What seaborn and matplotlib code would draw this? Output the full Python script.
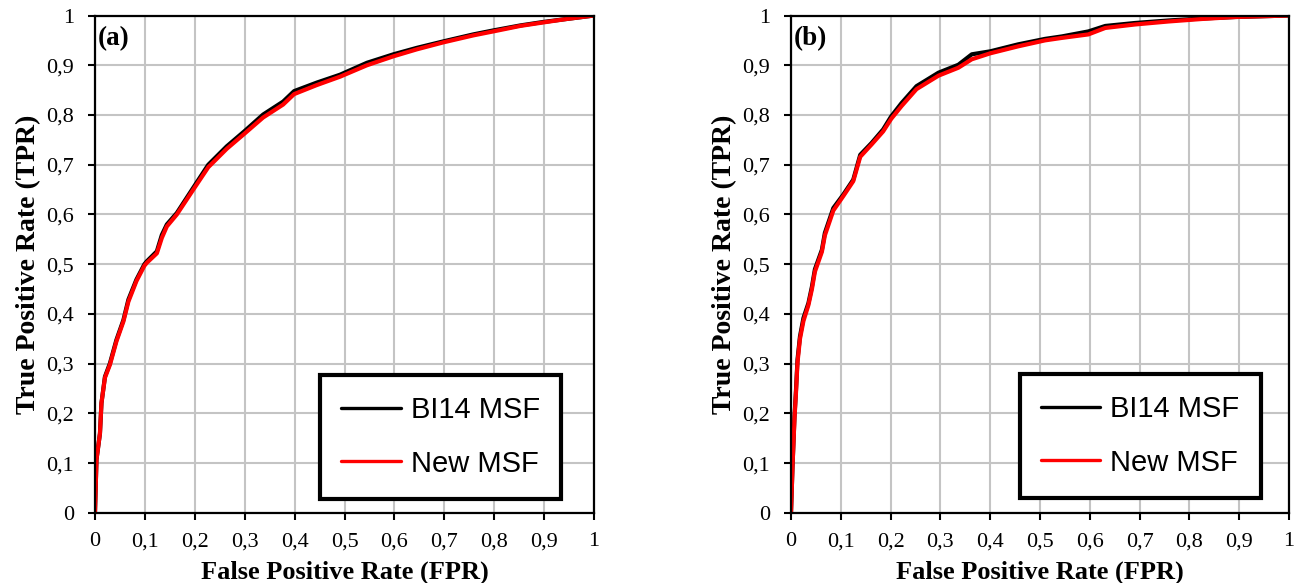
import matplotlib
matplotlib.use("Agg")
import matplotlib.pyplot as plt
import pandas as pd
import seaborn as sns

# ROC curve samples, panel (a)
fpr_a = [0, 0.003, 0.010, 0.013, 0.020, 0.030, 0.043, 0.057, 0.067, 0.083, 0.099,
         0.104, 0.124, 0.134, 0.144, 0.164, 0.199, 0.227, 0.264, 0.299, 0.337, 0.377,
         0.399, 0.444, 0.491, 0.545, 0.598, 0.645, 0.698, 0.758, 0.798, 0.852, 0.898,
         0.945, 1.0]
tpr_a_bi14 = [0, 0.107, 0.160, 0.221, 0.274, 0.301, 0.348, 0.388, 0.429, 0.469, 0.500,
              0.506, 0.526, 0.559, 0.580, 0.603, 0.657, 0.700, 0.737, 0.767, 0.801, 0.827,
              0.848, 0.865, 0.881, 0.905, 0.922, 0.935, 0.948, 0.962, 0.970, 0.980, 0.987,
              0.993, 1.0]
tpr_a_new = [0, 0.107, 0.160, 0.221, 0.272, 0.298, 0.345, 0.385, 0.425, 0.466, 0.497,
             0.503, 0.522, 0.553, 0.576, 0.600, 0.653, 0.695, 0.732, 0.762, 0.795, 0.821,
             0.842, 0.860, 0.877, 0.900, 0.918, 0.932, 0.946, 0.960, 0.968, 0.979, 0.986,
             0.993, 1.0]

# ROC curve samples, panel (b)
fpr_b = [0, 0.003, 0.007, 0.010, 0.013, 0.018, 0.025, 0.035, 0.042, 0.048, 0.062,
         0.068, 0.085, 0.105, 0.125, 0.139, 0.162, 0.185, 0.201, 0.222, 0.252, 0.296,
         0.336, 0.363, 0.400, 0.456, 0.510, 0.544, 0.597, 0.631, 0.691, 0.758, 0.825,
         0.892, 1.0]
tpr_b_bi14 = [0, 0.093, 0.194, 0.247, 0.308, 0.355, 0.392, 0.422, 0.455, 0.490, 0.529,
              0.563, 0.613, 0.640, 0.670, 0.720, 0.744, 0.771, 0.797, 0.824, 0.858, 0.885,
              0.901, 0.922, 0.928, 0.942, 0.953, 0.958, 0.968, 0.979, 0.985, 0.990, 0.994,
              0.997, 1.0]
tpr_b_new = [0, 0.093, 0.190, 0.242, 0.302, 0.350, 0.386, 0.418, 0.450, 0.485, 0.525,
             0.558, 0.608, 0.637, 0.667, 0.716, 0.741, 0.767, 0.792, 0.818, 0.852, 0.879,
             0.895, 0.912, 0.924, 0.938, 0.950, 0.955, 0.962, 0.975, 0.982, 0.988, 0.993,
             0.997, 1.0]

series_names = ["BI14 MSF", "New MSF"]
series_colors = {"BI14 MSF": "black", "New MSF": "red"}
panel_tags = ["(a)", "(b)"]
tick_values = [0, 0.1, 0.2, 0.3, 0.4, 0.5, 0.6, 0.7, 0.8, 0.9, 1]
tick_labels = ["0", "0,1", "0,2", "0,3", "0,4", "0,5", "0,6", "0,7", "0,8", "0,9", "1"]
x_title = "False Positive Rate (FPR)"
y_title = "True Positive Rate (TPR)"


def long_frame(fpr, tpr_bi14, tpr_new):
    parts = []
    for name, tpr in zip(series_names, [tpr_bi14, tpr_new]):
        parts.append(pd.DataFrame({"fpr": fpr, "tpr": tpr, "model": name}))
    return pd.concat(parts, ignore_index=True)


frames = [long_frame(fpr_a, tpr_a_bi14, tpr_a_new),
          long_frame(fpr_b, tpr_b_bi14, tpr_b_new)]

sns.set_theme(style="ticks")
plt.rcParams["font.family"] = ["Liberation Serif", "DejaVu Serif"]
plt.rcParams["text.color"] = "black"
plt.rcParams["axes.labelcolor"] = "black"
plt.rcParams["xtick.color"] = "black"
plt.rcParams["ytick.color"] = "black"

fig = plt.figure(figsize=(13.01, 5.83), dpi=100)
axes_rects = [[0.0730, 0.1201, 0.3836, 0.8533],
              [0.6080, 0.1201, 0.3828, 0.8533]]
legend_centers = [(0.692, 0.153), (0.701, 0.155)]

for rect, df, tag, lc in zip(axes_rects, frames, panel_tags, legend_centers):
    ax = fig.add_axes(rect)
    sns.lineplot(data=df, x="fpr", y="tpr", hue="model", hue_order=series_names,
                 palette=series_colors, sort=False, estimator=None,
                 linewidth=3.0, ax=ax)
    ax.set_xlim(0, 1)
    ax.set_ylim(0, 1)
    ax.set_xticks(tick_values)
    ax.set_xticklabels(tick_labels)
    ax.set_yticks(tick_values)
    ax.set_yticklabels(tick_labels)
    ax.grid(True, color="#c4c4c4", linewidth=1.5)
    ax.set_axisbelow(True)
    for side in ["left", "right", "top", "bottom"]:
        ax.spines[side].set_visible(True)
        ax.spines[side].set_color("black")
        ax.spines[side].set_linewidth(1.6)
    ax.tick_params(axis="both", direction="out", length=5, width=1.5,
                   color="black", labelsize=16, labelcolor="black")
    ax.tick_params(axis="x", pad=9)
    ax.tick_params(axis="y", pad=10)
    ax.set_xlabel(x_title, fontsize=19, fontweight="bold", labelpad=6.5)
    ax.set_ylabel(y_title, fontsize=20, fontweight="bold", labelpad=4)
    ax.text(0.006, 0.953, tag, transform=ax.transAxes, ha="left", va="center",
            fontsize=19.5, fontweight="bold")

    leg = ax.legend(loc="center", bbox_to_anchor=lc,
                    frameon=True, fancybox=False,
                    prop={"family": "Liberation Sans", "size": 21},
                    handlelength=2.05, handletextpad=0.34, labelspacing=0.88,
                    borderpad=0.72, borderaxespad=0)
    leg.get_frame().set_edgecolor("black")
    leg.get_frame().set_linewidth(3)
    leg.get_frame().set_facecolor("white")
    leg.get_frame().set_alpha(1)
    for line in leg.get_lines():
        line.set_linewidth(2.4)
    for txt in leg.get_texts():
        txt.set_color("black")

fig.savefig("out.png", dpi=100, facecolor="white")
